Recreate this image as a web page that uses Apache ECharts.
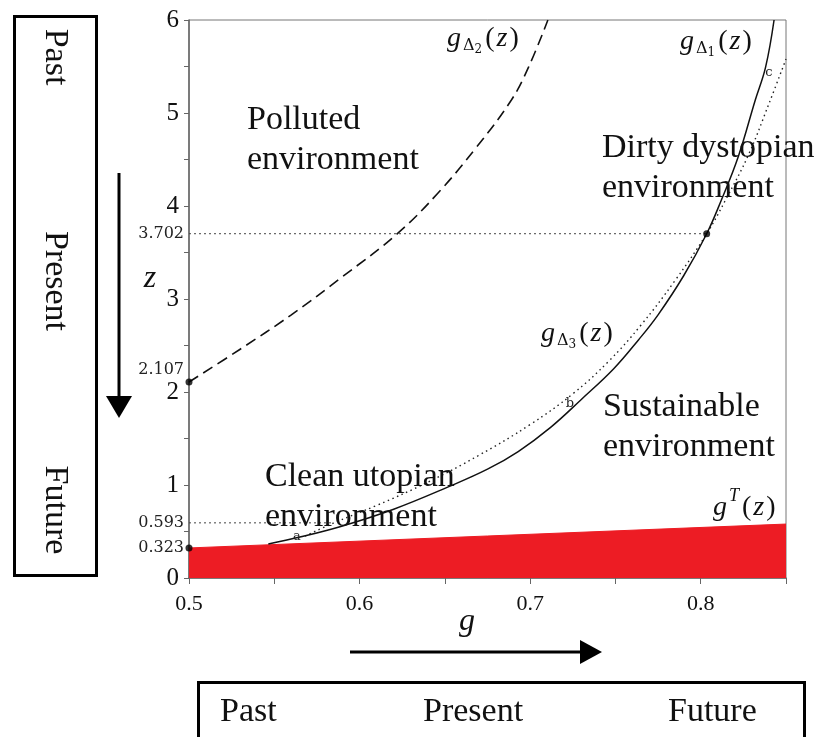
<!DOCTYPE html>
<html><head><meta charset="utf-8">
<script src="https://cdn.jsdelivr.net/npm/echarts@6/dist/echarts.min.js"></script>
<style>html,body{margin:0;padding:0;background:#fff}#c{width:825px;height:737px}</style>
</head><body><div id="c"></div>
<script>
// ---- data ----
const gAxisMin = 0.5, gAxisMax = 0.85, zAxisMin = 0, zAxisMax = 6;
const xTickLabels = [0.5, 0.6, 0.7, 0.8];
const yTickLabels = [0, 1, 2, 3, 4, 5, 6];
const markedZ = [0.323, 0.593, 2.107, 3.702];

// g^T(z) lower boundary (red region)
const gT_g = [0.5, 0.85];
const gT_z = [0.323, 0.58];

// g_Delta1(z) solid
const d1_g = [0.5465, 0.565, 0.59, 0.62, 0.652, 0.675, 0.693, 0.712, 0.73, 0.749, 0.7635, 0.775, 0.79, 0.8035, 0.812, 0.822, 0.832, 0.838, 0.843];
const d1_z = [0.366, 0.44, 0.56, 0.74, 0.98, 1.17, 1.36, 1.62, 1.92, 2.25, 2.56, 2.83, 3.25, 3.702, 4.06, 4.53, 5.14, 5.49, 6.0];

// g_Delta2(z) dashed
const d2_g = [0.5, 0.53, 0.56, 0.59, 0.622, 0.646, 0.668, 0.689, 0.699, 0.7104];
const d2_z = [2.107, 2.46, 2.83, 3.24, 3.70, 4.14, 4.62, 5.14, 5.49, 6.0];

// g_Delta3(z) dotted
const d3_g = [0.568, 0.585, 0.61, 0.64, 0.67, 0.70, 0.725, 0.746, 0.765, 0.785, 0.8035, 0.815, 0.828, 0.84, 0.85];
const d3_z = [0.45, 0.593, 0.78, 1.03, 1.32, 1.65, 1.98, 2.33, 2.72, 3.20, 3.702, 4.08, 4.55, 5.10, 5.58];

// guide lines and marked points
const guideA_g = [0.5, 0.8035], guideA_z = [3.702, 3.702];
const guideB_g = [0.5, 0.585], guideB_z = [0.593, 0.593];
const dots_g = [0.5, 0.5, 0.8035];
const dots_z = [2.107, 0.323, 3.702];

const zip = (a, b) => a.map((v, i) => [v, b[i]]);

// ---- helpers ----
const SERIF = '"Liberation Serif", "Times New Roman", serif';
const cv = document.createElement('canvas').getContext('2d');
function tw(text, font) { cv.font = font; return cv.measureText(text).width; }

function curveLabel(x, base, sub, sup) {
  const els = [];
  const fs = 28;
  const fMain = 'italic ' + fs + 'px ' + SERIF;
  els.push({ type: 'text', x: x, y: base - 0.34 * fs, z: 100,
    style: { text: 'g', font: fMain, fill: '#111', verticalAlign: 'middle' } });
  let cx = x + tw('g', fMain) + 2;
  if (sub) {
    const fD = '16px "DejaVu Serif"';
    els.push({ type: 'text', x: cx, y: base + 3 - 0.35 * 16, z: 100,
      style: { text: 'Δ', font: fD, fill: '#111', verticalAlign: 'middle' } });
    cx += tw('Δ', fD);
    const fI = '12px "DejaVu Serif"';
    els.push({ type: 'text', x: cx, y: base + 6 - 0.35 * 12, z: 100,
      style: { text: sub, font: fI, fill: '#111', verticalAlign: 'middle' } });
    cx += tw(sub, fI) + 3;
  }
  if (sup) {
    const fS = 'italic 18px ' + SERIF;
    els.push({ type: 'text', x: cx, y: base - 15 - 0.34 * 18, z: 100,
      style: { text: sup, font: fS, fill: '#111', verticalAlign: 'middle' } });
    cx += tw(sup, fS) + 3;
  }
  els.push({ type: 'text', x: cx, y: base - 0.34 * fs, z: 100,
    style: { text: '{n|(}{i|z}{n|)}', fill: '#111', verticalAlign: 'middle',
      rich: { n: { fontSize: fs, fontFamily: SERIF, fill: '#111' },
              i: { fontSize: fs, fontFamily: SERIF, fontStyle: 'italic', fill: '#111', padding: [0, 2, 0, 2] } } } });
  return els;
}

function regionText(x, top, text) {
  return { type: 'text', x: x, y: top, z: 100,
    style: { text: text, font: '34px ' + SERIF, lineHeight: 40, fill: '#111', verticalAlign: 'top' } };
}

const chart = echarts.init(document.getElementById('c'), null, { renderer: 'canvas' });

const graphics = [
  // left time box
  { type: 'rect', shape: { x: 14.5, y: 16.5, width: 82, height: 559 }, style: { fill: 'none', stroke: '#000', lineWidth: 3 } },
  { type: 'text', x: 55, y: 57, rotation: -Math.PI / 2, style: { text: 'Past', font: '34px ' + SERIF, fill: '#111', align: 'center', verticalAlign: 'middle' } },
  { type: 'text', x: 55, y: 281, rotation: -Math.PI / 2, style: { text: 'Present', font: '34px ' + SERIF, fill: '#111', align: 'center', verticalAlign: 'middle' } },
  { type: 'text', x: 55, y: 510, rotation: -Math.PI / 2, style: { text: 'Future', font: '34px ' + SERIF, fill: '#111', align: 'center', verticalAlign: 'middle' } },
  // bottom time box
  { type: 'rect', shape: { x: 198.5, y: 682.5, width: 606, height: 100 }, style: { fill: 'none', stroke: '#000', lineWidth: 3 } },
  { type: 'text', x: 220, y: 712, style: { text: 'Past', font: '34px ' + SERIF, fill: '#111', verticalAlign: 'middle' } },
  { type: 'text', x: 423, y: 712, style: { text: 'Present', font: '34px ' + SERIF, fill: '#111', verticalAlign: 'middle' } },
  { type: 'text', x: 668, y: 712, style: { text: 'Future', font: '34px ' + SERIF, fill: '#111', verticalAlign: 'middle' } },
  // arrows
  { type: 'line', shape: { x1: 119, y1: 173, x2: 119, y2: 400 }, style: { stroke: '#000', lineWidth: 3 } },
  { type: 'polygon', shape: { points: [[106, 396], [132, 396], [119, 418]] }, style: { fill: '#000' } },
  { type: 'line', shape: { x1: 350, y1: 652, x2: 584, y2: 652 }, style: { stroke: '#000', lineWidth: 3 } },
  { type: 'polygon', shape: { points: [[580, 640], [580, 664], [602, 652]] }, style: { fill: '#000' } },
  // axis names
  { type: 'text', x: 150, y: 279, style: { text: 'z', font: 'italic 32px ' + SERIF, fill: '#111', align: 'center', verticalAlign: 'middle' } },
  { type: 'text', x: 467, y: 622, style: { text: 'g', font: 'italic 32px ' + SERIF, fill: '#111', align: 'center', verticalAlign: 'middle' } },
  // region labels
  regionText(247, 100, 'Polluted\nenvironment'),
  regionText(602, 128, 'Dirty dystopian\nenvironment'),
  regionText(603, 387, 'Sustainable\nenvironment'),
  regionText(265, 457, 'Clean utopian\nenvironment'),
  // point tags
  { type: 'text', x: 297, y: 537, z: 100, style: { text: 'a', font: '13px "DejaVu Serif"', fill: '#222', align: 'center', verticalAlign: 'middle' } },
  { type: 'text', x: 570, y: 404, z: 100, style: { text: 'b', font: '13px "DejaVu Serif"', fill: '#222', align: 'center', verticalAlign: 'middle' } },
  { type: 'text', x: 769, y: 73, z: 100, style: { text: 'c', font: '13px "DejaVu Serif"', fill: '#222', align: 'center', verticalAlign: 'middle' } }
].concat(
  curveLabel(447, 48, '2', null),
  curveLabel(680, 51, '1', null),
  curveLabel(541, 343, '3', null),
  curveLabel(713, 517, null, 'T')
);

const option = {
  animation: false,
  backgroundColor: '#fff',
  grid: { left: 189, top: 20, right: 39, bottom: 159, show: true, borderColor: '#777', borderWidth: 1, backgroundColor: 'transparent' },
  xAxis: {
    type: 'value', min: gAxisMin, max: gAxisMax, interval: 0.05,
    axisLine: { show: true, lineStyle: { color: '#666', width: 1.5 } },
    axisTick: { show: true, length: 6, lineStyle: { color: '#666' } },
    splitLine: { show: false },
    axisLabel: { margin: 15, color: '#111', fontFamily: SERIF, fontSize: 22,
      formatter: v => xTickLabels.some(t => Math.abs(t - v) < 1e-6) ? v.toFixed(1) : '' }
  },
  yAxis: [{
    type: 'value', min: zAxisMin, max: zAxisMax, interval: 0.5,
    axisLine: { show: true, lineStyle: { color: '#666', width: 1.5 } },
    axisTick: { show: true, length: 5, lineStyle: { color: '#666' } },
    splitLine: { show: false },
    axisLabel: { margin: 10, color: '#111', fontFamily: SERIF, fontSize: 25,
      formatter: v => yTickLabels.some(t => Math.abs(t - v) < 1e-6) ? String(Math.round(v)) : '' }
  }, {
    type: 'value', min: zAxisMin, max: zAxisMax, position: 'left',
    axisLine: { show: false }, axisTick: { show: false }, splitLine: { show: false },
    axisLabel: { customValues: markedZ, margin: 5, color: '#222', fontFamily: '"DejaVu Serif"', fontSize: 16,
      formatter: v => Math.abs(v - 2.107) < 1e-6 ? '{up|' + v.toFixed(3) + '}' : v.toFixed(3),
      rich: { up: { fontFamily: '"DejaVu Serif"', fontSize: 16, color: '#222', padding: [0, 0, 24, 0] } } }
  }],
  series: [
    { type: 'line', name: 'gT', data: zip(gT_g, gT_z), symbol: 'none',
      lineStyle: { color: '#ED1C24', width: 1 }, areaStyle: { color: '#ED1C24', opacity: 1 }, z: 1 },
    { type: 'line', name: 'guideA', data: zip(guideA_g, guideA_z), symbol: 'none',
      lineStyle: { color: '#444', width: 1, type: [2, 3] }, z: 2 },
    { type: 'line', name: 'guideB', data: zip(guideB_g, guideB_z), symbol: 'none',
      lineStyle: { color: '#444', width: 1, type: [2, 3] }, z: 2 },
    { type: 'line', name: 'd3', data: zip(d3_g, d3_z), symbol: 'none', smooth: 0.4,
      lineStyle: { color: '#222', width: 1.4, type: [1.5, 3.5] }, z: 3 },
    { type: 'line', name: 'd1', data: zip(d1_g, d1_z), symbol: 'none', smooth: 0.4,
      lineStyle: { color: '#111', width: 1.5 }, z: 4 },
    { type: 'line', name: 'd2', data: zip(d2_g, d2_z), symbol: 'none', smooth: 0.4,
      lineStyle: { color: '#111', width: 1.6, type: [11, 6] }, z: 4 },
    { type: 'scatter', name: 'dots', data: zip(dots_g, dots_z), symbol: 'circle', symbolSize: 7,
      itemStyle: { color: '#000' }, z: 5 }
  ],
  graphic: graphics
};
chart.setOption(option);
</script>
</body></html>
